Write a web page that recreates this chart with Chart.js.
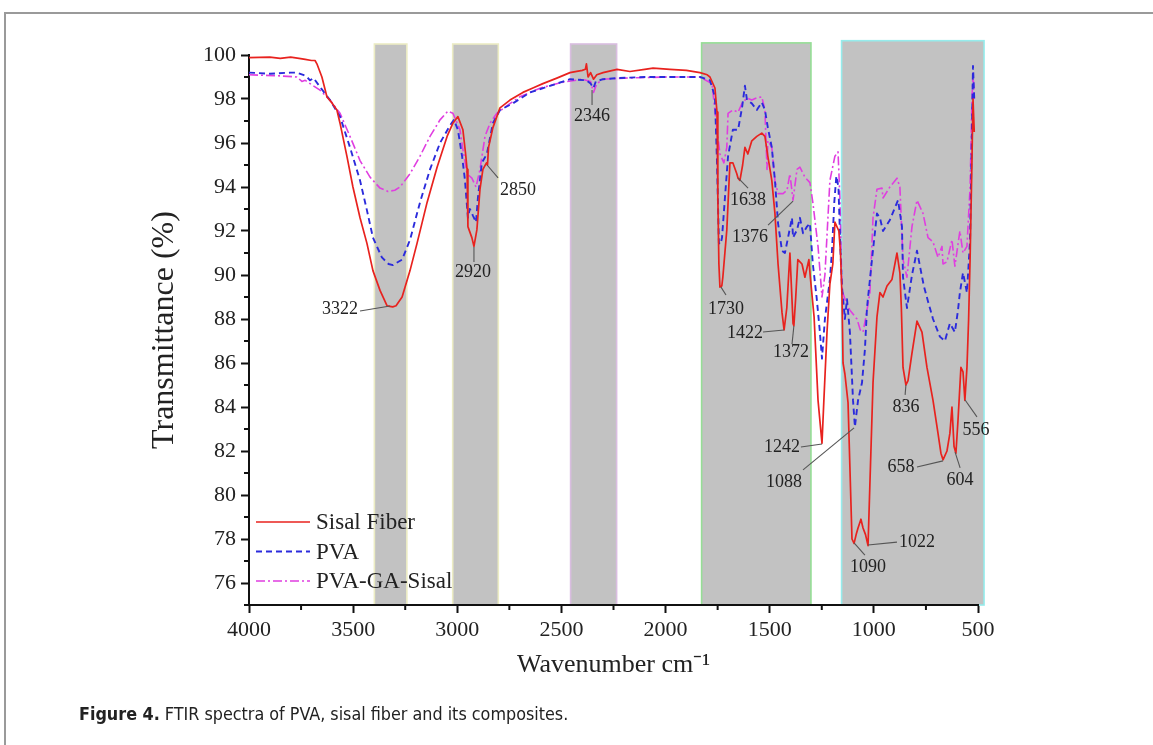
<!DOCTYPE html>
<html><head><meta charset="utf-8">
<script src="https://cdn.jsdelivr.net/npm/chart.js@4.4.0/dist/chart.umd.min.js"></script>
<style>
html,body{margin:0;padding:0;background:#fff;overflow:hidden;width:1153px;height:745px}
#frame{position:absolute;left:4px;top:12px;width:1300px;height:900px;border-top:2px solid #9a9a9a;border-left:2px solid #9a9a9a}
#c{position:absolute;left:0;top:0}
#cap{position:absolute;left:79px;top:703px;font:17.8px 'Liberation Sans Narrow','DejaVu Sans Condensed',sans-serif;color:#222;white-space:nowrap}
</style></head><body>
<div id="frame"></div>
<canvas id="c" width="1153" height="745"></canvas>
<div id="cap"><b>Figure 4.</b> FTIR spectra of PVA, sisal fiber and its composites.</div>
<script>
const seriesLabels = ['Sisal Fiber', 'PVA', 'PVA-GA-Sisal'];

const sisalWn = [4000,3900,3850,3800,3760,3730,3700,3683,3674,3650,3626,3600,3578,3563,3530,3501,3467,3434,3405,3371,3337,3310,3294,3265,3227,3193,3145,3097,3049,3021,2997,2973,2960,2953,2949,2930,2920,2906,2891,2877,2860,2855,2850,2829,2795,2747,2685,2637,2589,2522,2459,2400,2385,2380,2372,2360,2346,2330,2300,2233,2171,2100,2060,1979,1900,1835,1800,1787,1763,1753,1749,1744,1739,1730,1725,1706,1691,1677,1658,1652,1643,1630,1619,1605,1586,1562,1538,1523,1509,1490,1475,1460,1441,1431,1418,1403,1388,1384,1375,1365,1345,1331,1312,1305,1287,1268,1249,1240,1225,1211,1197,1187,1168,1160,1153,1148,1139,1124,1105,1095,1085,1076,1062,1052,1040,1028,1019,1004,985,971,956,937,913,889,875,868,860,846,836,817,793,769,745,716,692,678,668,649,635,625,615,606,596,582,572,563,553,545,538,529,524,518];
const sisalT = [99.88,99.9,99.85,99.9,99.85,99.8,99.75,99.75,99.6,99.0,98.1,97.8,97.5,96.9,95.4,94.0,92.6,91.45,90.2,89.3,88.6,88.55,88.6,89.0,90.2,91.45,93.3,94.9,96.3,96.9,97.2,96.6,95.5,94.8,92.2,91.7,91.3,92.05,93.9,94.8,95.1,95.0,95.8,96.7,97.6,97.95,98.3,98.5,98.7,98.95,99.2,99.3,99.35,99.6,99.0,99.2,98.9,99.1,99.2,99.35,99.25,99.35,99.4,99.35,99.3,99.2,99.1,99.0,98.5,97.4,93.5,90.5,89.45,89.5,89.9,92.05,95.1,95.1,94.6,94.4,94.3,95.0,95.8,95.5,96.1,96.3,96.45,96.3,95.4,94.3,92.8,90.5,88.3,87.5,88.5,91.0,87.8,87.7,89.0,90.7,90.5,89.9,90.7,89.9,88.1,84.3,82.35,84.3,87.4,89.6,90.5,92.4,92.0,91.0,89.0,86.0,85.5,84.2,78.0,77.8,78.2,78.5,78.9,78.5,78.2,77.7,80.5,85.1,88.1,89.2,89.0,89.5,89.8,91.0,90.1,88.5,85.8,85.0,85.2,86.45,87.9,87.4,85.8,84.3,82.8,81.9,81.6,82.0,82.8,84.0,82.2,81.9,83.4,85.8,85.6,84.3,85.8,88.0,90.7,95.2,98.0,96.5];

const pvaWn = [4000,3900,3800,3770,3740,3722,3707,3690,3659,3611,3563,3515,3467,3434,3405,3362,3330,3309,3265,3227,3179,3131,3083,3035,3016,2997,2977,2963,2949,2940,2934,2925,2910,2901,2882,2858,2829,2795,2733,2651,2569,2459,2380,2360,2346,2335,2300,2233,2100,2000,1900,1835,1787,1763,1753,1744,1736,1729,1715,1700,1677,1652,1633,1619,1609,1586,1562,1538,1523,1509,1490,1475,1460,1441,1427,1412,1393,1388,1369,1355,1340,1321,1307,1293,1275,1260,1249,1235,1211,1201,1190,1180,1170,1160,1153,1139,1129,1115,1100,1091,1076,1057,1043,1033,1009,985,971,956,923,884,865,860,841,817,793,760,740,716,683,659,635,611,596,587,572,553,538,529,524,518];
const pvaT = [99.2,99.15,99.2,99.2,99.1,99.0,98.85,98.95,98.55,97.95,97.2,95.8,94.3,92.95,91.7,90.8,90.5,90.45,90.7,91.6,93.3,94.8,96.0,96.8,97.05,96.6,95.4,94.3,92.6,93.0,92.9,92.7,92.4,93.5,95.1,95.5,96.9,97.5,97.8,98.3,98.55,98.9,98.85,98.7,98.5,98.8,98.9,98.95,99.0,99.0,99.0,99.0,98.85,98.1,95.1,91.45,91.4,91.7,93.5,95.4,96.6,96.6,97.6,98.6,97.95,97.8,97.5,97.85,97.5,96.7,95.8,94.3,92.35,91.1,91.0,91.7,92.6,91.7,92.05,92.6,91.9,92.2,92.35,90.5,89.0,87.5,86.2,88.0,89.8,91.1,93.3,94.5,94.0,91.0,89.45,88.0,88.9,87.4,84.3,83.1,84.3,85.1,86.6,88.5,90.7,92.8,92.6,92.0,92.5,93.4,92.2,89.9,88.5,90.0,91.1,89.5,88.8,88.0,87.2,87.0,87.8,87.4,88.4,89.2,90.1,89.2,91.6,96.7,99.5,98.0];

const compWn = [4000,3850,3770,3746,3730,3707,3659,3611,3563,3515,3467,3419,3371,3333,3300,3275,3227,3179,3131,3083,3045,3021,2987,2973,2953,2930,2910,2891,2867,2843,2810,2761,2700,2600,2500,2400,2360,2346,2330,2300,2200,2000,1835,1777,1753,1739,1720,1706,1700,1677,1652,1633,1609,1586,1562,1538,1523,1513,1509,1490,1475,1460,1436,1417,1403,1388,1369,1355,1331,1307,1293,1268,1249,1235,1211,1187,1172,1163,1153,1135,1115,1081,1065,1052,1040,1019,1004,985,961,956,923,889,875,860,841,817,793,764,740,716,692,673,668,649,625,611,587,572,553,538,529,524,518];
const compT = [99.1,99.05,99.0,98.8,98.85,98.7,98.4,97.95,97.35,96.3,95.2,94.45,93.95,93.8,93.85,94.0,94.6,95.4,96.3,97.05,97.45,97.35,96.6,95.7,94.6,94.4,94.0,94.8,96.3,96.9,97.35,97.7,98.1,98.5,98.75,98.9,98.8,98.3,98.7,98.9,98.95,99.0,99.0,98.7,96.6,95.5,95.1,95.8,97.35,97.5,97.4,97.8,98.05,97.95,98.05,98.1,97.5,94.8,96.1,95.8,94.3,93.7,93.7,93.85,94.6,93.4,94.8,94.9,94.45,94.2,93.3,91.3,89.0,90.0,94.3,95.4,95.6,93.5,89.3,88.8,88.4,88.0,87.5,87.4,88.0,89.2,92.6,93.9,93.95,93.5,94.0,94.4,94.0,90.7,89.9,92.2,93.4,92.8,91.7,91.5,90.8,91.3,90.5,90.6,91.6,90.4,92.0,91.0,91.3,94.0,97.95,99.2,98.0];

const xTicks = [4000,3500,3000,2500,2000,1500,1000,500];
const xMinor = [3750,3250,2750,2250,1750,1250,750];
const yTicks = [76,78,80,82,84,86,88,90,92,94,96,98,100];
const yMinor = [75,77,79,81,83,85,87,89,91,93,95,97,99];

const bandFrom = [3398,3022,2456,1827,1155];
const bandTo   = [3242,2803,2235,1302,471];
const bandTop  = [100.5,100.5,100.5,100.55,100.65];
const bandEdge = ['#ececc4','#ececc4','#d9bde0','#96de96','#96ecec'];

const annLabels = ['3322','2920','2850','2346','1730','1638','1376','1422','1372','1242','1088','1090','1022','836','658','604','556'];
const annTextWn = [3563,2925,2708,2353,1710,1604,1595,1619,1398,1441,1431,1028,793,846,870,586,510];
const annTextT  = [88.5,90.18,93.91,97.27,88.5,93.45,91.77,87.41,86.55,82.23,80.64,76.77,77.91,84.05,81.32,80.73,83.0];
const annFromWn = [3467,2920,2804,2353,1710,1604,1508,1532,1393,1350,1340,1043,889,850,793,586,505];
const annFromT  = [88.36,90.59,94.41,97.73,89.09,93.95,92.27,87.41,86.86,82.18,81.14,77.27,77.86,84.55,81.27,81.23,83.55];
const annToWn   = [3323,2920,2857,2353,1734,1652,1388,1431,1384,1249,1095,1095,1028,846,668,610,562];
const annToT    = [88.59,91.27,95.0,98.41,89.45,94.41,93.36,87.5,87.68,82.32,83.05,77.82,77.73,85.0,81.55,81.95,84.32];

const pts = (wn, t) => wn.map((w, i) => ({x: w, y: t[i]}));
const SERIF = '"Liberation Serif", "Times New Roman", serif';

const bandsPlugin = {
  id: 'bands',
  beforeDraw(chart) {
    const {ctx, scales: {x, y}} = chart;
    ctx.save();
    bandFrom.forEach((f, i) => {
      const x1 = x.getPixelForValue(f), x2 = x.getPixelForValue(bandTo[i]);
      const y1 = y.getPixelForValue(bandTop[i]), y2 = y.getPixelForValue(75);
      ctx.fillStyle = '#c2c2c2';
      ctx.fillRect(x1, y1, x2 - x1, y2 - y1);
      ctx.strokeStyle = bandEdge[i];
      ctx.lineWidth = 1.6;
      ctx.strokeRect(x1, y1, x2 - x1, y2 - y1);
    });
    ctx.restore();
  }
};

const extrasPlugin = {
  id: 'extras',
  afterDraw(chart) {
    const {ctx, chartArea: ca, scales: {x, y}} = chart;
    ctx.save();
    ctx.strokeStyle = '#111'; ctx.lineWidth = 2;
    xMinor.forEach(v => { const px = x.getPixelForValue(v); ctx.beginPath(); ctx.moveTo(px, ca.bottom); ctx.lineTo(px, ca.bottom + 5); ctx.stroke(); });
    yMinor.forEach(v => { const py = y.getPixelForValue(v); ctx.beginPath(); ctx.moveTo(ca.left, py); ctx.lineTo(ca.left - 5, py); ctx.stroke(); });
    ctx.strokeStyle = '#555'; ctx.lineWidth = 1.1;
    ctx.fillStyle = '#222'; ctx.font = '18px ' + SERIF; ctx.textAlign = 'center'; ctx.textBaseline = 'middle';
    annLabels.forEach((lab, i) => {
      ctx.beginPath();
      ctx.moveTo(x.getPixelForValue(annFromWn[i]), y.getPixelForValue(annFromT[i]));
      ctx.lineTo(x.getPixelForValue(annToWn[i]), y.getPixelForValue(annToT[i]));
      ctx.stroke();
      ctx.fillText(lab, x.getPixelForValue(annTextWn[i]), y.getPixelForValue(annTextT[i]) + 1);
    });
    chart.data.datasets.forEach((ds, i) => {
      const ly = ca.bottom - 83 + i * 29.5;
      ctx.strokeStyle = ds.borderColor; ctx.lineWidth = ds.borderWidth;
      ctx.setLineDash(ds.borderDash || []);
      ctx.beginPath(); ctx.moveTo(ca.left + 7, ly); ctx.lineTo(ca.left + 61, ly); ctx.stroke();
      ctx.setLineDash([]);
      ctx.fillStyle = '#222'; ctx.font = '23px ' + SERIF; ctx.textAlign = 'left'; ctx.textBaseline = 'middle';
      ctx.fillText(ds.label, ca.left + 67, ly + 1);
    });
    ctx.restore();
  }
};

new Chart(document.getElementById('c'), {
  type: 'line',
  data: {
    datasets: [
      {label: seriesLabels[0], data: pts(sisalWn, sisalT), borderColor: '#e8221e', borderWidth: 1.7},
      {label: seriesLabels[1], data: pts(pvaWn, pvaT), borderColor: '#2b2bdc', borderWidth: 1.9, borderDash: [6, 4]},
      {label: seriesLabels[2], data: pts(compWn, compT), borderColor: '#e03ee0', borderWidth: 1.6, borderDash: [9, 3, 2, 3]}
    ]
  },
  options: {
    responsive: false, animation: false, devicePixelRatio: 1,
    layout: {padding: {left: 145, right: 175, top: 55, bottom: 64}},
    plugins: {legend: {display: false}, tooltip: {enabled: false}},
    elements: {point: {radius: 0}, line: {tension: 0, borderJoinStyle: 'round', fill: false}},
    scales: {
      x: {
        type: 'linear', reverse: true, min: 500, max: 4000,
        afterBuildTicks: s => { s.ticks = xTicks.map(v => ({value: v})); },
        afterFit: s => { s.height = 76; },
        border: {display: true, color: '#111', width: 2},
        grid: {drawOnChartArea: false, drawTicks: true, tickLength: 8, tickWidth: 2, tickColor: '#111'},
        ticks: {font: {family: SERIF, size: 22}, color: '#222', padding: 4, maxRotation: 0, autoSkip: false, callback: v => String(v)},
        title: {display: true, text: 'Wavenumber cm\u207B\u00B9', font: {family: SERIF, size: 26}, color: '#222', padding: 0}
      },
      y: {
        type: 'linear', min: 75, max: 100,
        afterBuildTicks: s => { s.ticks = yTicks.map(v => ({value: v})); },
        afterFit: s => { s.width = 104; },
        border: {display: true, color: '#111', width: 2},
        grid: {drawOnChartArea: false, drawTicks: true, tickLength: 8, tickWidth: 2, tickColor: '#111'},
        ticks: {font: {family: SERIF, size: 22}, color: '#222', padding: 5, autoSkip: false, callback: v => String(v)},
        title: {display: true, text: 'Transmittance (%)', font: {family: SERIF, size: 32}, color: '#222', padding: 0}
      }
    }
  },
  plugins: [bandsPlugin, extrasPlugin]
});
</script></body></html>
